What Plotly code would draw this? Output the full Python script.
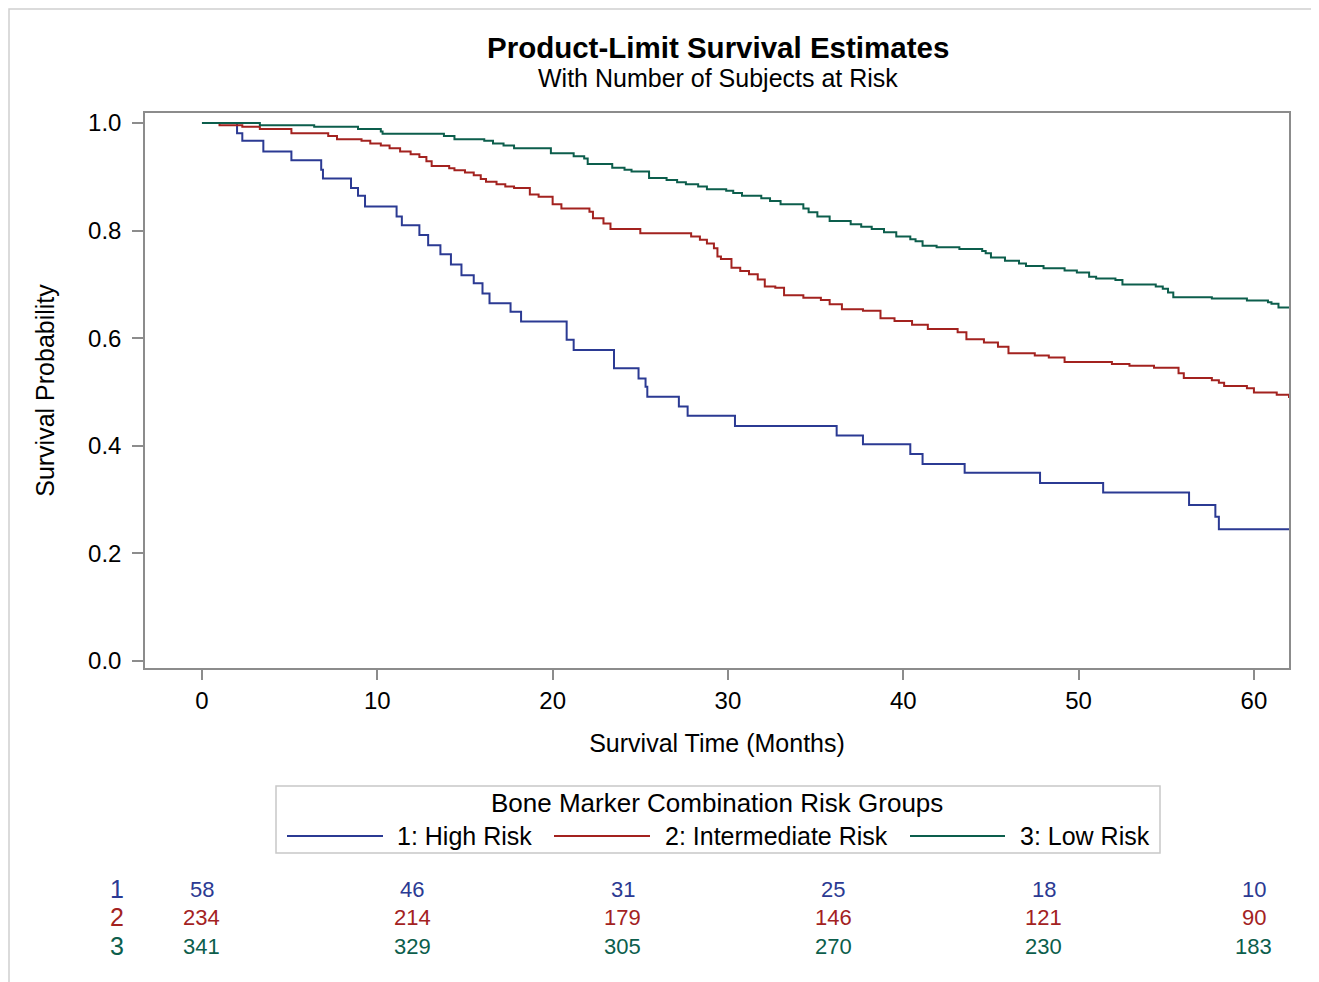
import plotly.graph_objects as go

# ---------------- data ----------------
group_names = ["1: High Risk", "2: Intermediate Risk", "3: Low Risk"]
group_labels = ["1", "2", "3"]
group_colors = ["#2B3A93", "#A3221F", "#0C5E4C"]

t_high = [0, 2.0, 2.3, 3.5, 5.1, 6.8, 6.9, 8.5, 8.9, 9.3, 11.1, 11.4, 12.4, 12.9, 13.6,
          14.2, 14.8, 15.5, 16.0, 16.4, 17.6, 18.2, 20.8, 21.2, 23.5, 24.9, 25.3, 25.4,
          27.2, 27.7, 30.4, 36.2, 37.7, 40.4, 41.1, 43.5, 47.8, 51.4, 56.3, 57.8, 58.0, 62.0]
s_high = [1.0, 0.981, 0.967, 0.947, 0.931, 0.913, 0.897, 0.879, 0.865, 0.845, 0.826, 0.810,
          0.792, 0.773, 0.756, 0.737, 0.717, 0.702, 0.683, 0.665, 0.649, 0.631, 0.597, 0.578,
          0.544, 0.525, 0.510, 0.491, 0.473, 0.456, 0.437, 0.419, 0.403, 0.385, 0.366, 0.350,
          0.331, 0.313, 0.290, 0.268, 0.245, 0.245]

t_inter = [0, 1.0, 2.3, 3.3, 5.1, 7.2, 7.7, 9.1, 9.6, 10.2, 10.7, 11.3, 11.9, 12.4, 12.8,
           13.1, 14.1, 14.4, 15.0, 15.5, 15.9, 16.2, 16.8, 17.3, 17.8, 18.7, 19.2, 20.0, 20.5,
           22.1, 22.3, 22.9, 23.3, 25.0, 27.9, 28.4, 28.8, 29.2, 29.4, 29.6, 30.2, 30.7, 31.2,
           31.7, 32.1, 32.7, 33.2, 34.3, 35.3, 35.8, 36.5, 37.7, 38.7, 39.5, 40.5, 41.4, 43.1,
           43.6, 44.6, 45.4, 46.0, 47.5, 48.3, 49.2, 51.9, 52.9, 54.3, 55.7, 56.0, 57.6, 58.0,
           58.3, 59.6, 60.0, 61.3, 62.0]
s_inter = [1.0, 0.996, 0.993, 0.989, 0.981, 0.976, 0.970, 0.967, 0.962, 0.958, 0.953, 0.947,
           0.942, 0.937, 0.929, 0.920, 0.916, 0.912, 0.908, 0.903, 0.896, 0.891, 0.886, 0.882,
           0.879, 0.867, 0.863, 0.849, 0.841, 0.835, 0.823, 0.813, 0.803, 0.795, 0.789, 0.783,
           0.776, 0.767, 0.752, 0.747, 0.731, 0.725, 0.719, 0.709, 0.696, 0.694, 0.680, 0.675,
           0.671, 0.663, 0.654, 0.651, 0.637, 0.632, 0.625, 0.617, 0.611, 0.598, 0.592, 0.584,
           0.572, 0.568, 0.564, 0.556, 0.552, 0.549, 0.545, 0.535, 0.526, 0.522, 0.517, 0.511,
           0.507, 0.499, 0.495, 0.489]

t_low = [0, 3.3, 6.4, 8.9, 10.2, 10.3, 13.8, 14.4, 16.1, 16.6, 17.2, 17.8, 19.9, 21.2, 21.8,
         22.0, 23.4, 24.1, 24.5, 25.5, 26.5, 27.1, 27.6, 28.3, 28.8, 29.9, 30.3, 30.8, 31.9,
         32.4, 33.0, 34.3, 34.6, 35.1, 35.8, 37.0, 37.6, 38.2, 38.9, 39.6, 40.4, 40.7, 41.1,
         41.9, 43.2, 44.5, 44.7, 45.0, 45.8, 46.6, 47.0, 48.0, 49.2, 49.9, 50.6, 51.0, 52.1,
         52.5, 54.4, 54.8, 55.1, 55.4, 57.6, 59.6, 60.8, 61.0, 61.4, 62.0]
s_low = [1.0, 0.996, 0.993, 0.989, 0.984, 0.980, 0.976, 0.970, 0.967, 0.962, 0.958, 0.953,
         0.944, 0.938, 0.934, 0.924, 0.917, 0.913, 0.910, 0.898, 0.894, 0.890, 0.886, 0.882,
         0.877, 0.874, 0.870, 0.865, 0.860, 0.855, 0.849, 0.841, 0.834, 0.826, 0.818, 0.812,
         0.807, 0.803, 0.797, 0.789, 0.784, 0.780, 0.772, 0.769, 0.766, 0.762, 0.758, 0.750,
         0.744, 0.739, 0.734, 0.730, 0.726, 0.722, 0.714, 0.711, 0.708, 0.700, 0.696, 0.692,
         0.685, 0.676, 0.674, 0.670, 0.667, 0.664, 0.657, 0.657]

risk_times = [0, 12, 24, 36, 48, 60]
at_risk_high = [58, 46, 31, 25, 18, 10]
at_risk_inter = [234, 214, 179, 146, 121, 90]
at_risk_low = [341, 329, 305, 270, 230, 183]

x_ticks = [0, 10, 20, 30, 40, 50, 60]
y_ticks = [0.0, 0.2, 0.4, 0.6, 0.8, 1.0]

# ---------------- figure ----------------
FONT = "Liberation Sans, Arial, sans-serif"
fig = go.Figure()

series_t = [t_high, t_inter, t_low]
series_s = [s_high, s_inter, s_low]
for name, color, tt, ss in zip(group_names, group_colors, series_t, series_s):
    fig.add_trace(go.Scatter(
        x=tt, y=ss, mode="lines", name=name,
        line=dict(color=color, width=2, shape="hv"),
        showlegend=False, hoverinfo="x+y+name",
    ))

# page has an 8px body margin; layout positions below are given in page pixels
OFF = 8
W, H = 1319 - OFF, 982 - OFF
L, R, T, B = 145, 1289, 113, 668          # plot area in page px
pw, ph = R - L, B - T


def px_x(px):
    return (px - L) / pw


def px_y(py):
    return (B - py) / ph


annotations = []
shapes = []

# title + subtitle
annotations.append(dict(text="<b>Product-Limit Survival Estimates</b>", xref="paper", yref="paper",
                        x=px_x(718), y=px_y(47), showarrow=False, xanchor="center", yanchor="middle",
                        font=dict(family=FONT, size=29.5, color="#000000")))
annotations.append(dict(text="With Number of Subjects at Risk", xref="paper", yref="paper",
                        x=px_x(718), y=px_y(78), showarrow=False, xanchor="center", yanchor="middle",
                        font=dict(family=FONT, size=25, color="#000000")))

# legend (drawn box)
shapes.append(dict(type="rect", xref="paper", yref="paper",
                   x0=px_x(276), x1=px_x(1160), y0=px_y(786), y1=px_y(853),
                   line=dict(color="#C8C8C8", width=1.5), fillcolor="rgba(0,0,0,0)"))
annotations.append(dict(text="Bone Marker Combination Risk Groups", xref="paper", yref="paper",
                        x=px_x(717), y=px_y(803), showarrow=False, xanchor="center", yanchor="middle",
                        font=dict(family=FONT, size=26, color="#000000")))
legend_line_x = [(287, 383), (554, 650), (910, 1005)]
legend_text_x = [395, 663, 1018]
for (x0, x1), tx, name, color in zip(legend_line_x, legend_text_x, group_names, group_colors):
    shapes.append(dict(type="line", xref="paper", yref="paper",
                       x0=px_x(x0), x1=px_x(x1), y0=px_y(836), y1=px_y(836),
                       line=dict(color=color, width=2)))
    annotations.append(dict(text=name, xref="paper", yref="paper",
                            x=px_x(tx), y=px_y(836), showarrow=False, xanchor="left", yanchor="middle",
                            font=dict(family=FONT, size=25, color="#000000")))

# at-risk table
row_y = [889, 917, 946]
for lab, color, counts, ry in zip(group_labels, group_colors,
                                  [at_risk_high, at_risk_inter, at_risk_low], row_y):
    annotations.append(dict(text=lab, xref="paper", yref="paper", x=px_x(117), y=px_y(ry),
                            showarrow=False, xanchor="center", yanchor="middle",
                            font=dict(family=FONT, size=25, color=color)))
    for tm, c in zip(risk_times, counts):
        annotations.append(dict(text=str(c), xref="x", yref="paper", x=tm, y=px_y(ry),
                                showarrow=False, xanchor="center", yanchor="middle",
                                font=dict(family=FONT, size=22, color=color)))

# outer border
shapes.append(dict(type="rect", xref="paper", yref="paper",
                   x0=px_x(9), x1=px_x(1312), y0=px_y(990), y1=px_y(9),
                   line=dict(color="#D0D0D0", width=1.5), fillcolor="rgba(0,0,0,0)", layer="below"))

fig.update_layout(
    width=W, height=H,
    margin=dict(l=L - OFF, r=W - (R - OFF), t=T - OFF, b=H - (B - OFF), autoexpand=False),
    paper_bgcolor="white", plot_bgcolor="white",
    font=dict(family=FONT, color="#000000"),
    showlegend=False,
    annotations=annotations,
    shapes=shapes,
    xaxis=dict(
        range=[-3.25, 62.0], tickmode="array", tickvals=x_ticks,
        ticks="outside", ticklen=10, tickcolor="#8C8C8C", tickwidth=1.5,
        showline=True, linecolor="#8C8C8C", linewidth=1.5, mirror=True,
        showgrid=False, zeroline=False,
        tickfont=dict(family=FONT, size=24, color="#000000"),
        ticklabelstandoff=0,
        title=dict(text="Survival Time (Months)", font=dict(family=FONT, size=25, color="#000000"),
                   standoff=22),
    ),
    yaxis=dict(
        range=[-0.013, 1.0186], tickmode="array", tickvals=y_ticks,
        tickformat=".1f",
        ticks="outside", ticklen=11, tickcolor="#8C8C8C", tickwidth=1.5,
        showline=True, linecolor="#8C8C8C", linewidth=1.5, mirror=True,
        showgrid=False, zeroline=False,
        tickfont=dict(family=FONT, size=24, color="#000000"),
        ticklabelstandoff=6,
        title=dict(text="Survival Probability", font=dict(family=FONT, size=25, color="#000000"),
                   standoff=26),
    ),
)

fig.write_html("out.html")
